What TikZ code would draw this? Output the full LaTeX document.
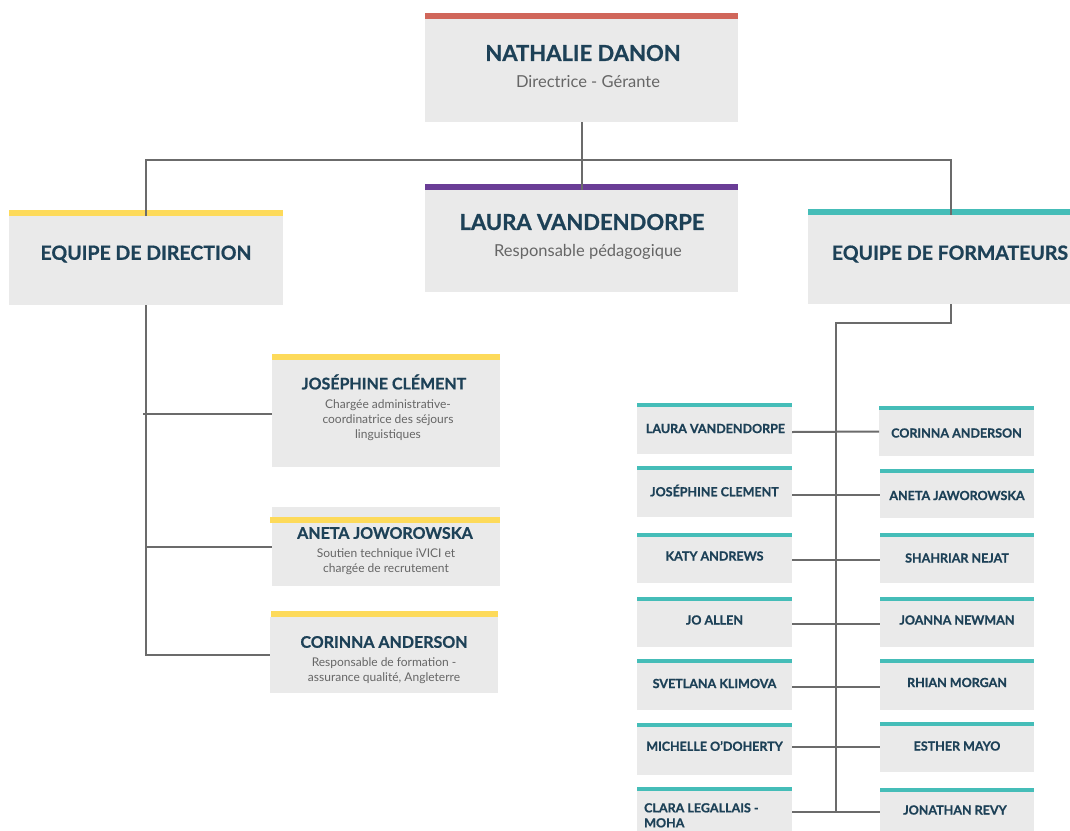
\documentclass[tikz,border=0pt]{standalone}
\usepackage{fontspec}
\setmainfont{Lato}[BoldFeatures={FakeBold=0.8}]
\usetikzlibrary{calc}
\definecolor{cardgray}{HTML}{EAEAEA}
\definecolor{titleblue}{HTML}{1D4157}
\definecolor{subgray}{HTML}{666666}
\definecolor{linegray}{HTML}{6B6B6B}
\definecolor{barred}{HTML}{D0665A}
\definecolor{barpurple}{HTML}{6A3D96}
\definecolor{baryellow}{HTML}{FDDA5A}
\definecolor{barteal}{HTML}{45BDB8}
\tikzset{
  card/.style={fill=cardgray, draw=none, inner sep=0pt, outer sep=0pt, anchor=north west},
  conn/.style={draw=linegray, line width=2pt},
  bigtitle/.style={font=\bfseries\fontsize{22}{26}\selectfont, text=titleblue, inner sep=0pt},
  teamtitle/.style={font=\bfseries\fontsize{19.5}{23}\selectfont, text=titleblue, inner sep=0pt},
  midtitle/.style={font=\bfseries\fontsize{16}{19}\selectfont, text=titleblue, inner sep=0pt},
  smalltitle/.style={font=\bfseries\fontsize{12.5}{15}\selectfont, text=titleblue, inner sep=0pt},
  subtitle/.style={font=\fontsize{16.5}{19}\selectfont, text=subgray, inner sep=0pt},
  desc/.style={font=\fontsize{12}{15}\selectfont, text=subgray, inner sep=0pt, align=center},
}
% \card{name}{x1}{y1}{x2}{y2}{barcolor}{bar y1}{bar y2}{bar x1}
\newcommand{\card}[9]{%
  \node[card, minimum width={(#4-#2)*1pt}, minimum height={(#5-#3)*1pt}] (#1) at (#2,#3) {};
  \fill[#6] (#9,#7) rectangle (#4,#8);
}
\begin{document}
\begin{tikzpicture}[x=1pt,y=-1pt]
\useasboundingbox (0,0) rectangle (1070,830);
\fill[white] (0,0) rectangle (1070,830);

% top level
\card{nd}{425}{19}{738}{122}{barred}{13}{19}{425}
\node[bigtitle] (ndt) at (583,53) {NATHALIE DANON};
\node[subtitle] (nds) at (588,82) {Directrice - Gérante};

\card{lv}{425}{190}{738}{292}{barpurple}{184}{190}{425}
\node[bigtitle] (lvt) at (582,222) {LAURA VANDENDORPE};
\node[subtitle] (lvs) at (588,252) {Responsable pédagogique};

\card{ed}{9}{216}{283}{305}{baryellow}{210}{216}{9}
\node[teamtitle] (edt) at (146,254) {EQUIPE DE DIRECTION};

\card{ef}{808}{215}{1094}{304}{barteal}{209}{215}{808}
\node[teamtitle] (eft) at (950,254) {EQUIPE DE FORMATEURS};

\coordinate (hub) at (582,160);
\draw[conn] (nd.south) -- (lv.north);
\draw[conn] (ed.north) |- (hub) -| (ef.north);

% left section
\card{jc}{272}{360}{500}{467}{baryellow}{354}{360}{272}
\node[midtitle] (jct) at (384,382) {JOSÉPHINE CLÉMENT};
\node[desc] (jcd) at (388,420) {Chargée administrative-\\coordinatrice des séjours\\linguistiques};

\card{aj}{272}{507}{500}{586}{baryellow}{517}{523}{270}
\node[midtitle] (ajt) at (385,533) {ANETA JOWOROWSKA};
\node[desc] (ajd) at (386,561.5) {Soutien technique iVICI et\\chargée de recrutement};

\card{ca}{270}{617}{498}{693}{baryellow}{611}{617}{271}
\node[midtitle] (cat) at (384,642) {CORINNA ANDERSON};
\node[desc] (cad) at (384,670.5) {Responsable de formation -\\assurance qualité, Angleterre};

\draw[conn] (ed.south) |- (ca.west);
\draw[conn] ([xshift=-3pt]jc.west -| ed.south) -- (jc.west);
\draw[conn] (aj.west -| ed.south) -- (aj.west);

% right section
\card{l1}{637}{407}{792}{454}{barteal}{403}{407}{637}
\node[smalltitle] at ($(l1.center)+(1,-2)$) {LAURA VANDENDORPE};
\card{r1}{879}{410}{1034}{456}{barteal}{406}{410}{879}
\node[smalltitle] at (r1.center) {CORINNA ANDERSON};

\card{l2}{637}{470}{792}{517}{barteal}{466}{470}{637}
\node[smalltitle] at ($(l2.center)+(0,-3)$) {JOSÉPHINE CLEMENT};
\card{r2}{880}{473}{1034}{518}{barteal}{469}{473}{880}
\node[smalltitle] at (r2.center) {ANETA JAWOROWSKA};

\card{l3}{637}{537}{792}{583}{barteal}{533}{537}{637}
\node[smalltitle] at ($(l3.center)+(0,-4)$) {KATY ANDREWS};
\card{r3}{880}{537}{1034}{583}{barteal}{533}{537}{880}
\node[smalltitle] at ($(r3.center)+(0,-2)$) {SHAHRIAR NEJAT};

\card{l4}{637}{601}{792}{647}{barteal}{597}{601}{637}
\node[smalltitle] at ($(l4.center)+(0,-4)$) {JO ALLEN};
\card{r4}{880}{601}{1034}{647}{barteal}{597}{601}{880}
\node[smalltitle] at ($(r4.center)+(0,-4)$) {JOANNA NEWMAN};

\card{l5}{637}{663}{792}{710}{barteal}{659}{663}{637}
\node[smalltitle] at ($(l5.center)+(0,-3)$) {SVETLANA KLIMOVA};
\card{r5}{880}{663}{1034}{710}{barteal}{659}{663}{880}
\node[smalltitle] at ($(r5.center)+(0,-4)$) {RHIAN MORGAN};

\card{l6}{637}{727}{792}{775}{barteal}{723}{727}{637}
\node[smalltitle] at ($(l6.center)+(0,-5)$) {MICHELLE O'DOHERTY};
\card{r6}{880}{726}{1034}{772}{barteal}{722}{726}{880}
\node[smalltitle] at ($(r6.center)+(0,-3)$) {ESTHER MAYO};

\card{l7}{637}{791}{792}{842}{barteal}{787}{791}{637}
\node[smalltitle, align=left, anchor=north west] at (644,803) {CLARA LEGALLAIS -\\MOHA};
\card{r7}{880}{792}{1034}{842}{barteal}{788}{792}{880}
\node[smalltitle] at (955,810) {JONATHAN REVY};

\coordinate (rj) at (836,323);
\draw[conn] (ef.south) |- (rj) -- (rj |- 0,812);
\draw[conn] ($(l1.east)+(0,1.5)$) -- ($(r1.west)+(0,-1.5)$);
\draw[conn] ($(l2.east)+(0,1.5)$) -- ($(r2.west)+(0,-0.5)$);
\draw[conn] (l3.east) -- (r3.west);
\draw[conn] (l4.east) -- (r4.west);
\draw[conn] (l5.east) -- (r5.west);
\draw[conn] ($(l6.east)+(0,-4)$) -- ($(r6.west)+(0,-2)$);
\draw[conn] ($(l7.east)+(0,-4.5)$) -- ($(r7.west)+(0,-5)$);
\end{tikzpicture}
\end{document}
